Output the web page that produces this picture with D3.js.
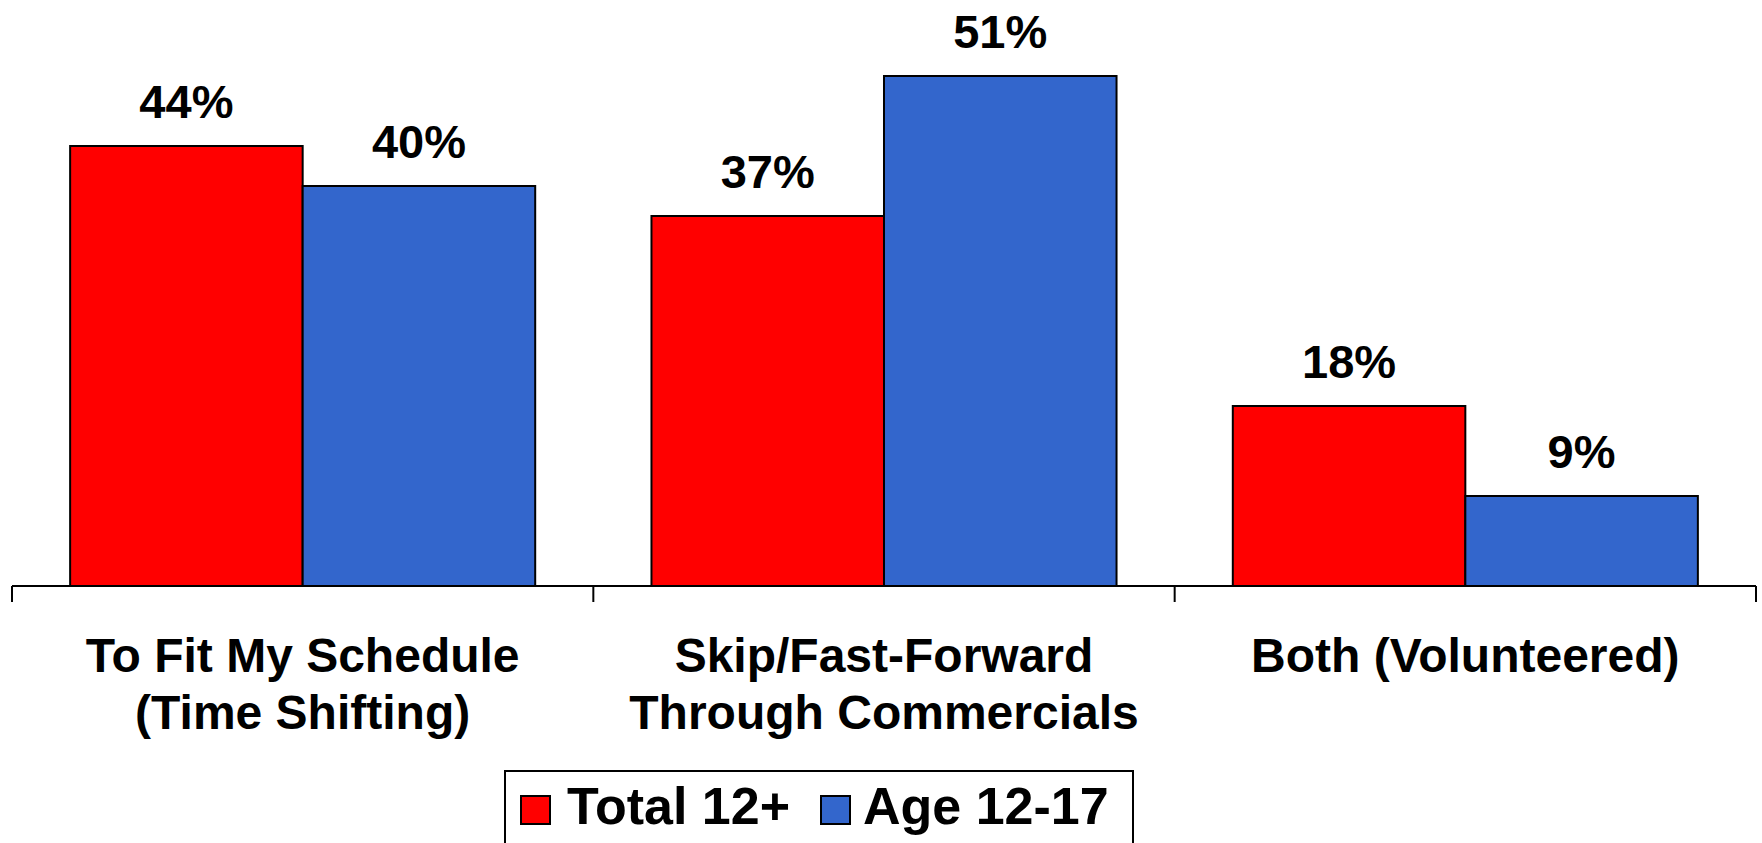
<!DOCTYPE html>
<html>
<head>
<meta charset="utf-8">
<script src="https://cdn.jsdelivr.net/npm/d3@7"></script>
<style>
html,body{margin:0;padding:0;background:#fff;overflow:hidden;}
svg{display:block;}
text{font-family:"Liberation Sans",Arial,sans-serif;font-weight:bold;fill:#000;}
</style>
</head>
<body>
<script>
const categories = [["To Fit My Schedule","(Time Shifting)"],["Skip/Fast-Forward","Through Commercials"],["Both (Volunteered)"]];
const seriesNames = ["Total 12+","Age 12-17"];
const total12 = [44, 37, 18];
const age1217 = [40, 51, 9];
const colors = ["#FF0000","#3366CC"];

const W = 1762, H = 843;
const svg = d3.select("body").append("svg").attr("width",W).attr("height",H);

const catKeys = categories.map((c,i)=>i);
const x0 = d3.scaleBand().domain(catKeys).range([12,1756]).padding(0);
const x1 = d3.scaleBand().domain(seriesNames).range([0,x0.bandwidth()]).paddingInner(0).paddingOuter(0.25);
const y = d3.scaleLinear().domain([0,58]).range([586,6]);

const data = catKeys.map(i=>({i, vals:[total12[i], age1217[i]]}));

const g = svg.append("g");
const groups = g.selectAll("g.grp").data(data).join("g").attr("class","grp")
  .attr("transform",d=>`translate(${x0(d.i)},0)`);

groups.selectAll("rect").data(d=>d.vals.map((v,k)=>({v,k}))).join("rect")
  .attr("x",d=>x1(seriesNames[d.k]))
  .attr("y",d=>y(d.v))
  .attr("width",x1.bandwidth())
  .attr("height",d=>y(0)-y(d.v))
  .attr("fill",d=>colors[d.k])
  .attr("stroke","#000").attr("stroke-width",2);

groups.selectAll("text.val").data(d=>d.vals.map((v,k)=>({v,k}))).join("text")
  .attr("class","val")
  .attr("x",d=>x1(seriesNames[d.k])+x1.bandwidth()/2)
  .attr("y",d=>y(d.v)-28)
  .attr("text-anchor","middle")
  .style("font-size","47px")
  .text(d=>d.v+"%");

// x axis
const axis = d3.axisBottom(x0).tickSize(0).tickFormat("");
const ax = svg.append("g").attr("transform",`translate(0,${y(0)})`).call(axis);
ax.select(".domain").attr("stroke","#000").attr("stroke-width",2).attr("d",`M12,0H1756`);
const bounds = catKeys.map(i=>x0(i)).concat([x0(catKeys[catKeys.length-1])+x0.bandwidth()]);
ax.selectAll("line.tk").data(bounds).join("line").attr("class","tk")
  .attr("x1",d=>d).attr("x2",d=>d).attr("y1",0).attr("y2",16)
  .attr("stroke","#000").attr("stroke-width",2);

// category labels
const cl = svg.append("g");
cl.selectAll("text").data(data).join("text")
  .attr("x",d=>x0(d.i)+x0.bandwidth()/2)
  .attr("y",672)
  .attr("text-anchor","middle")
  .style("font-size","48px")
  .each(function(d){
    const t = d3.select(this);
    categories[d.i].forEach((line,j)=>{
      t.append("tspan").attr("x",x0(d.i)+x0.bandwidth()/2).attr("dy",j===0?0:57).text(line);
    });
  });

// legend
const lg = svg.append("g");
lg.append("rect").attr("x",505).attr("y",771).attr("width",628).attr("height",100)
  .attr("fill","#fff").attr("stroke","#000").attr("stroke-width",2);
const swX = [521, 821];
const txX = [567, 863];
seriesNames.forEach((s,k)=>{
  lg.append("rect").attr("x",swX[k]).attr("y",796).attr("width",29).attr("height",28)
    .attr("fill",colors[k]).attr("stroke","#000").attr("stroke-width",2);
  lg.append("text").attr("x",txX[k]).attr("y",824).style("font-size","52px").text(s);
});
</script>
</body>
</html>
